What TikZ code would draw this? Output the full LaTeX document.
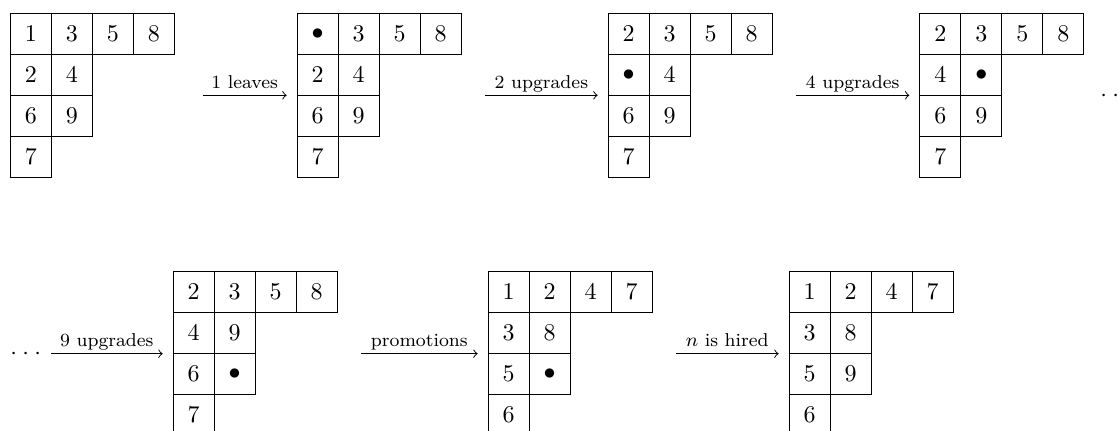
\documentclass[tikz,border=0pt]{standalone}
\usepackage{tikz}
\usetikzlibrary{matrix, positioning, calc}

\tikzset{
  tab/.style={matrix of math nodes, inner sep=0pt, outer sep=0pt,
    column sep=-\pgflinewidth, row sep=-\pgflinewidth,
    nodes={draw, minimum size=0.6cm, inner sep=0pt, anchor=center}},
  lbl/.style={font=\fontsize{7.75pt}{9pt}\selectfont, inner sep=0pt, text depth=0pt, above=2.8pt},
  move/.style={->}
}
\newcommand{\spreaddots}{$\cdotp\mkern1mu\cdotp\mkern1mu\cdotp$}

\begin{document}
\begin{tikzpicture}
  \useasboundingbox (0,0) rectangle (16.361,-6.293);
  % upper row
  \matrix (t1) [tab, anchor=west] at (0.146,-1.395) {
    1 & 3 & 5 & 8 \\ 2 & 4 \\ 6 & 9 \\ 7 \\ };
  \matrix (t2) [tab, right=1.781cm of t1] {
    \bullet & 3 & 5 & 8 \\ 2 & 4 \\ 6 & 9 \\ 7 \\ };
  \matrix (t3) [tab, right=2.137cm of t2] {
    2 & 3 & 5 & 8 \\ \bullet & 4 \\ 6 & 9 \\ 7 \\ };
  \matrix (t4) [tab, right=2.147cm of t3] {
    2 & 3 & 5 & 8 \\ 4 & \bullet \\ 6 & 9 \\ 7 \\ };
  \node (dr) [inner sep=0pt, anchor=base west] at ([xshift=0.23cm, yshift=-2.5pt]t4.east) {\spreaddots};

  % lower row
  \node (dl) [inner sep=0pt, anchor=base west] at (0.146,-5.264) {\spreaddots};
  \matrix (t5) [tab, anchor=west] at (2.527,-5.176) {
    2 & 3 & 5 & 8 \\ 4 & 9 \\ 6 & \bullet \\ 7 \\ };
  \matrix (t6) [tab, right=2.195cm of t5] {
    1 & 2 & 4 & 7 \\ 3 & 8 \\ 5 & \bullet \\ 6 \\ };
  \matrix (t7) [tab, right=1.990cm of t6] {
    1 & 2 & 4 & 7 \\ 3 & 8 \\ 5 & 9 \\ 6 \\ };

  % arrows
  \draw[move] ([xshift=0.405cm]t1.east) -- node[lbl]{1 leaves} ([xshift=-0.146cm]t2.west);
  \draw[move] ([xshift=0.342cm]t2.east) -- node[lbl]{2 upgrades} ([xshift=-0.146cm]t3.west);
  \draw[move] ([xshift=0.342cm]t3.east) -- node[lbl]{4 upgrades} ([xshift=-0.146cm]t4.west);
  \draw[move] ($(dl.east |- t5.west)+(0.136,0)$) -- node[lbl]{9 upgrades} ([xshift=-0.146cm]t5.west);
  \draw[move] ([xshift=0.342cm]t5.east) -- node[lbl]{promotions} ([xshift=-0.146cm]t6.west);
  \draw[move] ([xshift=0.342cm]t6.east) -- node[lbl]{$n$ is hired} ([xshift=-0.146cm]t7.west);
\end{tikzpicture}
\end{document}
